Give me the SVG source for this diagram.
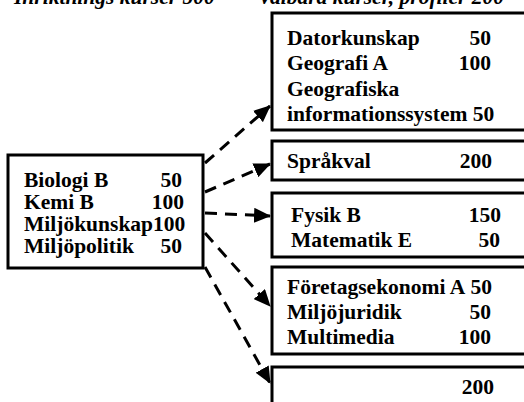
<svg xmlns="http://www.w3.org/2000/svg" width="524" height="402" viewBox="0 0 524 402">
<style>
.box{fill:#fff;stroke:#000;stroke-width:3}
.t{font-family:"Liberation Serif","Times New Roman",serif;font-weight:bold;font-size:21.5px;fill:#000}
.e{text-anchor:end}
.h{font-family:"Liberation Serif","Times New Roman",serif;font-weight:bold;font-style:italic;font-size:21.5px;fill:#000}
.c{fill:none;stroke:#000;stroke-width:3;stroke-dasharray:12 8}
</style>
<defs>
<marker id="ah" markerUnits="userSpaceOnUse" markerWidth="17" markerHeight="15" refX="16" refY="7.5" orient="auto">
<path d="M0,0 L17,7.5 L0,15 Z" fill="#000"/>
</marker>
</defs>
<text class="h" x="14" y="4">Inriktnings kurser 500</text>
<text class="h" x="258" y="4">Valbara kurser, profiler 200</text>
<g id="connectors">
<line class="c" x1="205" y1="163" x2="270" y2="106" marker-end="url(#ah)"/>
<line class="c" x1="205" y1="192" x2="270" y2="164" marker-end="url(#ah)"/>
<line class="c" x1="205" y1="213" x2="270" y2="216" marker-end="url(#ah)"/>
<line class="c" x1="205" y1="233" x2="270" y2="306" marker-end="url(#ah)"/>
<line class="c" x1="205" y1="267" x2="270" y2="383" marker-end="url(#ah)"/>
</g>
<g id="left">
<rect class="box" x="8" y="155" width="195" height="113"/>
<text class="t" x="24" y="187">Biologi B</text><text class="t e" x="182" y="187">50</text>
<text class="t" x="24" y="209">Kemi B</text><text class="t e" x="184" y="209">100</text>
<text class="t" x="24" y="231">Miljökunskap100</text>
<text class="t" x="24" y="253">Miljöpolitik</text><text class="t e" x="182" y="253">50</text>
</g>
<g id="n1">
<rect class="box" x="272" y="13" width="260" height="117"/>
<text class="t" x="287" y="45">Datorkunskap</text><text class="t e" x="491" y="45">50</text>
<text class="t" x="287" y="70">Geografi A</text><text class="t e" x="491" y="70">100</text>
<text class="t" x="287" y="96">Geografiska</text>
<text class="t" x="287" y="121">informationssystem 50</text>
</g>
<g id="n2">
<rect class="box" x="272" y="141" width="260" height="39"/>
<text class="t" x="287" y="168">Språkval</text><text class="t e" x="492" y="168">200</text>
</g>
<g id="n3">
<rect class="box" x="272" y="193" width="260" height="64"/>
<text class="t" x="291" y="222">Fysik B</text><text class="t e" x="501" y="222">150</text>
<text class="t" x="291" y="247">Matematik E</text><text class="t e" x="500" y="247">50</text>
</g>
<g id="n4">
<rect class="box" x="272" y="267" width="260" height="87"/>
<text class="t" x="287" y="294">Företagsekonomi A</text><text class="t e" x="492" y="294">50</text>
<text class="t" x="287" y="319">Miljöjuridik</text><text class="t e" x="491" y="319">50</text>
<text class="t" x="287" y="344">Multimedia</text><text class="t e" x="491" y="344">100</text>
</g>
<g id="n5">
<rect class="box" x="272" y="367" width="260" height="50"/>
<text class="t e" x="494" y="394">200</text>
</g>
</svg>
